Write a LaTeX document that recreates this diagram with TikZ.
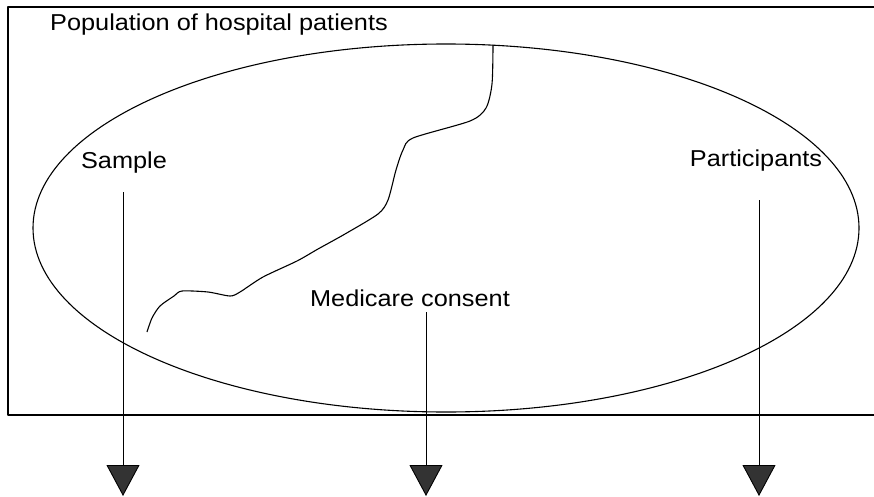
\documentclass[tikz,border=0pt]{standalone}
\usepackage{graphicx}
\usepackage{fontspec}
\setmainfont{Liberation Sans}
\usetikzlibrary{arrows.meta}

\newcommand{\widetext}[1]{\scalebox{1.1}[1]{#1}}

\begin{document}
\begin{tikzpicture}[
    x=1pt, y=-1pt, line join=round,
    every node/.style={inner sep=0pt},
    lbl/.style={font=\fontsize{23}{27}\selectfont, anchor=base},
    flow/.style={-{Triangle[width=33pt, length=31pt, fill=black!80]}, line width=0.9pt}
]
    \useasboundingbox (0,0) rectangle (874,497);

    % population box and sample ellipse
    \draw[line width=1.3pt] (8,7) rectangle (884,415);
    \draw[line width=1.1pt] (446,228) ellipse [x radius=413pt, y radius=184pt];

    \node[lbl, anchor=base west] (pop) at (50,31)  {\widetext{Population of hospital patients}};
    \node[lbl] (smp) at (124,168) {\widetext{Sample}};
    \node[lbl] (par) at (756,167) {\widetext{Participants}};
    \node[lbl] (med) at (410,306) {\widetext{Medicare consent}};

    % dividing line
    \draw[line width=1.1pt] plot[smooth, tension=0.45] coordinates {
        (493,45) (492,84) (486,108) (470,121) (413,138) (403,150)
        (396,170) (388,200) (378,214) (345,234) (318,249) (297,261)
        (263,277) (240,292) (230,296) (208,292) (182,291) (174,296)
        (160,306) (152,318) (147,332)};

    % outflows
    \coordinate (smpin) at (123,192);
    \coordinate (smpout) at (123,496);
    \coordinate (medin) at (426,312);
    \coordinate (medout) at (426,496);
    \coordinate (parin) at (759,200);
    \coordinate (parout) at (759,496);

    \draw[flow] (smpin) -- (smpout);
    \draw[flow] (medin) -- (medout);
    \draw[flow] (parin) -- (parout);
\end{tikzpicture}
\end{document}
